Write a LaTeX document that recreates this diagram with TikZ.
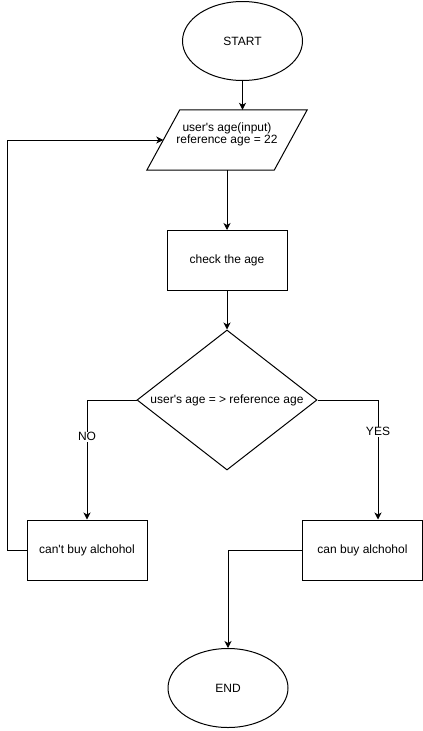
\documentclass[tikz,border=0pt]{standalone}
\usepackage{fontspec}
\setmainfont{Liberation Sans}
\usetikzlibrary{shapes.geometric,arrows.meta}

\begin{document}
\begin{tikzpicture}[
    x=1pt, y=-1pt,
    font=\fontsize{12}{14}\selectfont,
    terminal/.style={
        ellipse,
        draw,
        line width=1pt,
        minimum width=120pt,
        minimum height=79pt,
        inner sep=0pt,
        },
    io/.style={
        rectangle,
        minimum width=160pt,
        minimum height=60pt,
        inner sep=0pt,
        align=center,
        },
    ioline/.style={
        line width=1pt,
        line join=miter,
        },
    process/.style={
        rectangle,
        draw,
        line width=1pt,
        minimum width=120pt,
        minimum height=60pt,
        inner sep=0pt,
        },
    decision/.style={
        diamond,
        draw,
        line width=1pt,
        minimum width=180pt,
        minimum height=140pt,
        aspect=1.29,
        inner sep=0pt,
        },
    mylabel/.style={
        fill=white,
        inner sep=1pt,
        },
    ArrowC1/.style={
        line width=1pt,
        -{Stealth[length=7pt,width=7pt,inset=2pt]},
        },
    ]

    \useasboundingbox (0,0) rectangle (423,731);

    \node [terminal] (start) at (242.5,41) {START};
    \node [io] (input) at (227,140) {\raisebox{5pt}[\height][\depth]{\begin{tabular}{@{}c@{}}user\textquotesingle s age(input)\\[-2pt]reference age = 22\end{tabular}}};
    \draw [ioline] ([xshift=33pt]input.north west) -- (input.north east)
        -- ([xshift=-33pt]input.south east) -- (input.south west) -- cycle;
    \node [process] (check) at (227,260.5) {check the age};
    \node [decision] (cond) at (227,400) {user\textquotesingle s age = > reference age};

    \node [process] (cant) at (87,550) {can\textquotesingle t buy alchohol};
    \node [process] (can) at (362.5,550) {can buy alchohol};
    \node [terminal] (end) at (228,688) {END};

    \coordinate (back) at (7.5,550);

    \draw [ArrowC1] (start) -- (start |- input.north);
    \draw [ArrowC1] (input) -- (check);
    \draw [ArrowC1] (check) -- (cond);

    \draw [ArrowC1] (cond.west) -| node [mylabel, pos=0.654] {NO} (cant);
    \draw [ArrowC1] (cond.east) -| node [mylabel, pos=0.633] {YES} ([xshift=15.5pt]can.north);

    \draw [ArrowC1] (cant.west) -- (back) |- ([xshift=16.5pt]input.west);
    \draw [ArrowC1] (can.west) -| (end);

\end{tikzpicture}
\end{document}
